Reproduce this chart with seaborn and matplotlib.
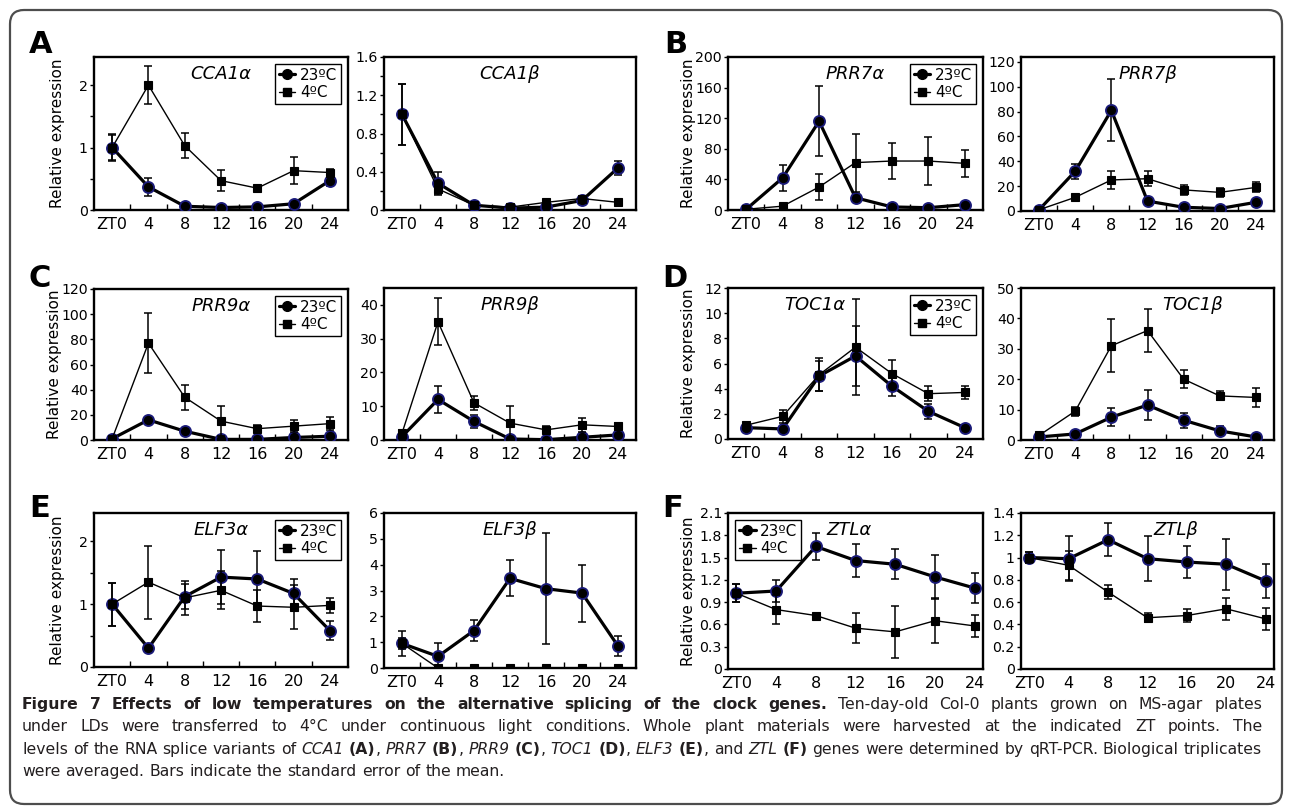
import matplotlib
matplotlib.use("Agg")
import matplotlib.pyplot as plt
import seaborn as sns
import numpy as np
from matplotlib.lines import Line2D
from matplotlib.patches import FancyBboxPatch
from matplotlib.ticker import MultipleLocator, FuncFormatter, NullLocator
from matplotlib.transforms import IdentityTransform

sns.set_theme(style="white")
plt.rcParams['font.family'] = ['DejaVu Sans']

W, H = 1290, 811

# ---------------- data ----------------
zt = [0, 4, 8, 12, 16, 20, 24]
zt_labels = ["ZT0", "4", "8", "12", "16", "20", "24"]
series_labels = ["23ºC", "4ºC"]

cca1a_23 = [1.0, 0.37, 0.06, 0.04, 0.05, 0.10, 0.47]
cca1a_23_se = [0.2, 0.15, 0.02, 0.01, 0.01, 0.02, 0.08]
cca1a_4 = [1.0, 2.0, 1.03, 0.47, 0.35, 0.63, 0.60]
cca1a_4_se = [0.22, 0.30, 0.20, 0.17, 0.03, 0.22, 0.05]

cca1b_23 = [1.0, 0.28, 0.05, 0.02, 0.03, 0.10, 0.44]
cca1b_23_se = [0.32, 0.12, 0.01, 0.01, 0.01, 0.02, 0.07]
cca1b_4 = [1.0, 0.22, 0.05, 0.03, 0.08, 0.12, 0.08]
cca1b_4_se = [0.32, 0.05, 0.01, 0.01, 0.01, 0.02, 0.01]

prr7a_23 = [1, 42, 116, 16, 4, 3, 7]
prr7a_23_se = [0.5, 17, 46, 5, 1, 1, 2]
prr7a_4 = [1, 5, 30, 62, 64, 64, 61]
prr7a_4_se = [0.5, 1, 17, 38, 23, 31, 18]

prr7b_23 = [1, 32, 81, 8, 3, 2, 7]
prr7b_23_se = [0.5, 6, 25, 2, 1, 1, 2]
prr7b_4 = [1, 11, 25, 26, 17, 15, 19]
prr7b_4_se = [0.5, 2, 7, 6, 4, 3.5, 4]

prr9a_23 = [1, 16, 7, 0.5, 0.5, 2, 3]
prr9a_23_se = [0.5, 2, 1, 0.2, 0.2, 0.5, 0.5]
prr9a_4 = [1, 77, 34, 15, 9, 11, 13]
prr9a_4_se = [0.5, 24, 10, 12, 3, 5, 5]

prr9b_23 = [1, 12, 5.5, 0.3, 0.1, 0.8, 1.5]
prr9b_23_se = [0.5, 4, 2, 0.1, 0.1, 0.3, 0.5]
prr9b_4 = [2, 35, 11, 5, 3, 4.5, 4]
prr9b_4_se = [1, 7, 2, 5, 1, 2, 1]

toc1a_23 = [0.9, 0.8, 5.0, 6.6, 4.2, 2.2, 0.9]
toc1a_23_se = [0.2, 0.1, 1.2, 2.4, 0.8, 0.6, 0.1]
toc1a_4 = [1.1, 1.8, 5.1, 7.3, 5.2, 3.6, 3.7]
toc1a_4_se = [0.2, 0.5, 1.3, 3.8, 1.1, 0.6, 0.5]

toc1b_23 = [1.0, 2.0, 7.5, 11.5, 6.5, 3.0, 1.0]
toc1b_23_se = [0.3, 0.5, 3.0, 5.0, 2.5, 1.5, 0.3]
toc1b_4 = [1.5, 9.5, 31, 36, 20, 14.5, 14]
toc1b_4_se = [0.5, 1.5, 8.7, 7, 3, 1.5, 3]

elf3a_23 = [1.0, 0.30, 1.12, 1.43, 1.40, 1.17, 0.58]
elf3a_23_se = [0.34, 0.05, 0.20, 0.43, 0.45, 0.23, 0.15]
elf3a_4 = [1.0, 1.35, 1.10, 1.22, 0.97, 0.95, 0.98]
elf3a_4_se = [0.34, 0.58, 0.27, 0.30, 0.25, 0.35, 0.12]

elf3b_23 = [0.95, 0.45, 1.45, 3.47, 3.07, 2.90, 0.85]
elf3b_23_se = [0.5, 0.5, 0.4, 0.7, 2.15, 1.1, 0.4]
elf3b_4 = [0.95, 0.0, 0.0, 0.0, 0.0, 0.0, 0.0]
elf3b_4_se = [0.2, 0, 0, 0, 0, 0, 0]

ztla_23 = [1.02, 1.05, 1.65, 1.46, 1.41, 1.24, 1.09]
ztla_23_se = [0.12, 0.15, 0.18, 0.22, 0.2, 0.3, 0.2]
ztla_4 = [1.02, 0.80, 0.72, 0.55, 0.50, 0.65, 0.58]
ztla_4_se = [0.12, 0.2, 0.02, 0.2, 0.35, 0.3, 0.15]

ztlb_23 = [1.0, 0.99, 1.16, 0.99, 0.96, 0.94, 0.79]
ztlb_23_se = [0.05, 0.2, 0.15, 0.2, 0.14, 0.23, 0.15]
ztlb_4 = [1.0, 0.93, 0.69, 0.46, 0.48, 0.54, 0.45]
ztlb_4_se = [0.05, 0.13, 0.06, 0.04, 0.06, 0.1, 0.1]

# ---------------- figure ----------------
fig = plt.figure(figsize=(W / 100, H / 100), dpi=100)
fig.patch.set_facecolor("white")

# outer rounded frame
frame = FancyBboxPatch((10, H - 804), 1272, 794,
                       boxstyle="round,pad=0,rounding_size=14",
                       transform=IdentityTransform(), fill=False,
                       edgecolor="#4d4d4d", linewidth=1.6, zorder=0)
fig.patches.append(frame)

C23_EDGE = "#1b1b7a"


def fmt_tick(v, pos):
    v = round(v, 6)
    return f"{v:g}"


def make_ax(l, t, r, b):
    return fig.add_axes([l / W, 1 - b / H, (r - l) / W, (b - t) / H])


panels = [
    # title, 23, 23se, 4, 4se, ymax, ystep, minor, box(l,t,r,b), title_x, legend, ylabel offset px, xmode
    ("CCA1α", cca1a_23, cca1a_23_se, cca1a_4, cca1a_4_se, 2.45, 1, True, (94, 57, 348, 210), 0.5, "ur", 29, "cat"),
    ("CCA1β", cca1b_23, cca1b_23_se, cca1b_4, cca1b_4_se, 1.6, 0.4, True, (384, 57, 636, 210), 0.5, None, None, "cat"),
    ("PRR7α", prr7a_23, prr7a_23_se, prr7a_4, prr7a_4_se, 200, 40, False, (728, 57, 983, 210), 0.5, "ur", 32, "cat"),
    ("PRR7β", prr7b_23, prr7b_23_se, prr7b_4, prr7b_4_se, 124, 20, False, (1021, 57, 1274, 211), 0.5, None, None, "cat"),
    ("PRR9α", prr9a_23, prr9a_23_se, prr9a_4, prr9a_4_se, 120, 20, False, (94, 289, 348, 440), 0.5, "ur", 32, "cat"),
    ("PRR9β", prr9b_23, prr9b_23_se, prr9b_4, prr9b_4_se, 45, 10, False, (384, 288, 636, 440), 0.5, None, None, "cat"),
    ("TOC1α", toc1a_23, toc1a_23_se, toc1a_4, toc1a_4_se, 12, 2, False, (728, 288, 983, 439), 0.34, "ur", 32, "cat"),
    ("TOC1β", toc1b_23, toc1b_23_se, toc1b_4, toc1b_4_se, 50, 10, False, (1021, 288, 1274, 440), 0.68, None, None, "cat"),
    ("ELF3α", elf3a_23, elf3a_23_se, elf3a_4, elf3a_4_se, 2.45, 1, True, (94, 513, 348, 667), 0.5, "ur", 29, "cat"),
    ("ELF3β", elf3b_23, elf3b_23_se, elf3b_4, elf3b_4_se, 6, 1, False, (384, 513, 636, 668), 0.5, None, None, "cat"),
    ("ZTLα", ztla_23, ztla_23_se, ztla_4, ztla_4_se, 2.1, 0.3, False, (728, 513, 983, 669), 0.475, "ul", 32, "num"),
    ("ZTLβ", ztlb_23, ztlb_23_se, ztlb_4, ztlb_4_se, 1.4, 0.2, False, (1021, 513, 1274, 669), 0.61, None, None, "num"),
]

for (title, y23, e23, y4, e4, ymax, ystep, minor, box, tx, leg, ylab, xmode) in panels:
    ax = make_ax(*box)
    ax.set_facecolor("white")
    # 23 C series (thick line, circles)
    ax.errorbar(zt, y23, yerr=e23, fmt="none", ecolor="black", elinewidth=1.1,
                capsize=3, capthick=1.1, zorder=2)
    sns.lineplot(x=zt, y=y23, ax=ax, color="black", linewidth=2.3, marker="o",
                 markersize=8, markerfacecolor="black", markeredgecolor=C23_EDGE,
                 markeredgewidth=1.3, zorder=3)
    # 4 C series (thin line, squares)
    ax.errorbar(zt, y4, yerr=e4, fmt="none", ecolor="black", elinewidth=1.1,
                capsize=3, capthick=1.1, zorder=4)
    sns.lineplot(x=zt, y=y4, ax=ax, color="black", linewidth=1.0, marker="s",
                 markersize=6, markerfacecolor="black", markeredgecolor="black",
                 markeredgewidth=0.8, zorder=5)

    ax.set_ylim(0, ymax)
    ax.yaxis.set_major_locator(MultipleLocator(ystep))
    ax.yaxis.set_major_formatter(FuncFormatter(fmt_tick))
    if minor:
        ax.yaxis.set_minor_locator(MultipleLocator(ystep / 2))
    else:
        ax.yaxis.set_minor_locator(NullLocator())

    if xmode == "cat":
        ax.set_xlim(-2, 26)
        ax.set_xticks(zt)
        ax.set_xticks([2, 6, 10, 14, 18, 22], minor=True)
        ax.tick_params(axis="x", which="major", length=0, pad=5)
        ax.tick_params(axis="x", which="minor", direction="in", length=4,
                       width=1, color="black", bottom=True)
    else:
        ax.set_xlim(-0.85, 24.85)
        ax.set_xticks(zt)
        ax.tick_params(axis="x", which="major", length=0, pad=5)
    ax.set_xticklabels(zt_labels)
    ax.tick_params(axis="x", labelsize=11.5, colors="black")
    ax.tick_params(axis="y", which="major", direction="out", length=3, width=1,
                   pad=1.5, labelsize=10.2, colors="black", left=True)
    ax.tick_params(axis="y", which="minor", direction="out", length=3, width=1,
                   colors="black", left=True)
    ax.set_xlabel("")
    ax.set_ylabel("")
    for s in ax.spines.values():
        s.set_visible(True)
        s.set_color("black")
        s.set_linewidth(1.7)

    hpx = box[3] - box[1]
    ax.text(tx, 1 - 17 / hpx, title, transform=ax.transAxes, ha="center",
            va="center", fontsize=13, fontstyle="italic", color="black")

    if ylab is not None:
        ax.set_ylabel("Relative expression", fontsize=11, color="black")
        ax.yaxis.set_label_coords(-ylab / (box[2] - box[0]), 0.5)

    if leg is not None:
        handles = [
            Line2D([], [], color="black", linewidth=2.3, marker="o", markersize=7,
                   markerfacecolor="black", markeredgecolor="black"),
            Line2D([], [], color="black", linewidth=1.0, marker="s", markersize=5.5,
                   markerfacecolor="black", markeredgecolor="black"),
        ]
        loc = "upper right" if leg == "ur" else "upper left"
        lg = ax.legend(handles, series_labels, loc=loc, frameon=True, fancybox=False,
                       edgecolor="black", fontsize=11, handlelength=1.1,
                       handletextpad=0.3, borderpad=0.25, labelspacing=0.15,
                       borderaxespad=0.45, framealpha=1)
        lg.get_frame().set_linewidth(1.0)
        for t in lg.get_texts():
            t.set_color("black")

# panel letters
for letter, (x, y) in {"A": (29, 53), "B": (664, 53), "C": (29, 287),
                       "D": (662, 287), "E": (29, 517), "F": (662, 517)}.items():
    fig.text(x / W, 1 - y / H, letter, fontsize=22, fontweight="bold",
             color="black", ha="left", va="baseline")

# ---------------- caption ----------------
renderer = fig.canvas.get_renderer()
TITLE_COLOR = "#231f20"
BODY_COLOR = "#231f20"
CAP_X0, CAP_X1 = 22, 1262


def words(s, weight="normal", style="normal", color=BODY_COLOR, glue_first=True):
    out = []
    for i, w in enumerate(s.split(" ")):
        out.append((w, weight, style, color, True if i > 0 else glue_first))
    return out


line1 = (words("Figure 7 Effects of low temperatures on the alternative splicing of the clock genes.",
               weight="bold", color=TITLE_COLOR, glue_first=False)
         + words("Ten-day-old Col-0 plants grown on MS-agar plates"))
line2 = words("under LDs were transferred to 4°C under continuous light conditions. Whole plant "
              "materials were harvested at the indicated ZT points. The", glue_first=False)
line3 = (words("levels of the RNA splice variants of", glue_first=False)
         + words("CCA1", style="italic") + words("(A)", weight="bold") + [(",", "normal", "normal", BODY_COLOR, False)]
         + words("PRR7", style="italic") + words("(B)", weight="bold") + [(",", "normal", "normal", BODY_COLOR, False)]
         + words("PRR9", style="italic") + words("(C)", weight="bold") + [(",", "normal", "normal", BODY_COLOR, False)]
         + words("TOC1", style="italic") + words("(D)", weight="bold") + [(",", "normal", "normal", BODY_COLOR, False)]
         + words("ELF3", style="italic") + words("(E)", weight="bold") + [(",", "normal", "normal", BODY_COLOR, False)]
         + words("and") + words("ZTL", style="italic") + words("(F)", weight="bold")
         + words("genes were determined by qRT-PCR. Biological triplicates"))
line4 = words("were averaged. Bars indicate the standard error of the mean.", glue_first=False)


def measure(txt, size, **kw):
    t = fig.text(0, 0, txt, fontsize=size, **kw)
    w = t.get_window_extent(renderer=renderer).width
    t.remove()
    return w


def natural_width(tokens, size):
    sp = measure("a a", size) - measure("aa", size)
    tot = 0
    for i, (w, wt, st, c, g) in enumerate(tokens):
        tot += measure(w, size, fontweight=wt, fontstyle=st)
        if i > 0 and g:
            tot += sp
    return tot


# choose caption size so the longest line fits with natural spacing
base = 10.0
widest = max(natural_width(l, base) for l in (line1, line2, line3))
CAP_SIZE = base * (CAP_X1 - CAP_X0) / widest * 0.995


def draw_line(y_px, tokens, justify=True):
    widths = [measure(w, CAP_SIZE, fontweight=wt, fontstyle=st) for (w, wt, st, c, g) in tokens]
    n_gaps = sum(1 for tk in tokens[1:] if tk[4])
    normal_space = measure("a a", CAP_SIZE) - measure("aa", CAP_SIZE)
    total = sum(widths)
    if justify and n_gaps > 0:
        gap = (CAP_X1 - CAP_X0 - total) / n_gaps
    else:
        gap = normal_space
    x = CAP_X0
    for i, ((w, wt, st, c, g), wd) in enumerate(zip(tokens, widths)):
        if g and i > 0:
            x += gap
        fig.text(x / W, 1 - y_px / H, w, fontsize=CAP_SIZE, fontweight=wt,
                 fontstyle=st, color=c, ha="left", va="baseline")
        x += wd


draw_line(709, line1)
draw_line(731, line2)
draw_line(754, line3)
draw_line(776, line4, justify=False)

fig.savefig("out.png", dpi=100, facecolor="white")
